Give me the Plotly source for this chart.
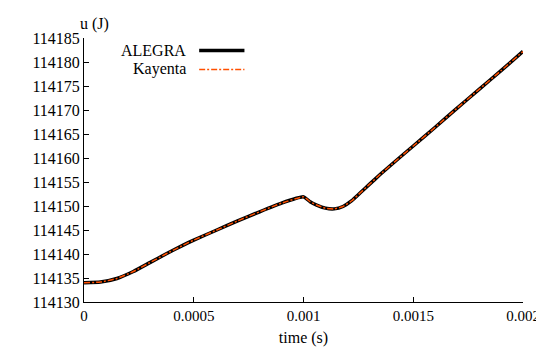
import plotly.graph_objects as go

# Data
time_s = [0.0, 0.000075, 0.00015, 0.000225, 0.0003, 0.000375, 0.00045, 0.0005,
          0.0006, 0.0007, 0.0008, 0.0009, 0.001, 0.00103, 0.00106, 0.0011,
          0.00114, 0.00118, 0.00122, 0.00126, 0.0013, 0.00135, 0.0014, 0.0015,
          0.0016, 0.0017, 0.0018, 0.0019, 0.002]
u_alegra = [114134.0, 114134.15, 114134.9, 114136.35, 114138.2, 114140.05, 114141.8,
            114142.9, 114144.9, 114146.9, 114148.8, 114150.6, 114151.9, 114150.9,
            114150.2, 114149.55, 114149.4, 114149.9, 114151.1, 114152.8, 114154.5,
            114156.6, 114158.6, 114162.5, 114166.4, 114170.4, 114174.3, 114178.2,
            114182.2]
u_kayenta = list(u_alegra)

x_ticks = [0, 0.0005, 0.001, 0.0015, 0.002]
x_tick_text = ["0", "0.0005", "0.001", "0.0015", "0.002"]
y_ticks = [114130, 114135, 114140, 114145, 114150, 114155, 114160, 114165,
           114170, 114175, 114180, 114185]
y_tick_text = [str(v) for v in y_ticks]
series_names = ["ALEGRA", "Kayenta"]

FONT = "Liberation Serif, Times New Roman, serif"
FS = 16
BLACK = "#000000"
ORANGE = "#ff4f00"

fig = go.Figure()
fig.add_trace(go.Scatter(x=time_s, y=u_alegra, mode="lines", name=series_names[0],
                         line=dict(color=BLACK, width=3.5, shape="spline", smoothing=0.4),
                         showlegend=False))
fig.add_trace(go.Scatter(x=time_s, y=u_kayenta, mode="lines", name=series_names[1],
                         line=dict(color=ORANGE, width=1.5, dash="6px,2px,2px,2px",
                                   shape="spline", smoothing=0.4),
                         showlegend=False))

W, H = 544, 352
ml, mr, mt, mb = 76, 22, 30, 58
pw, ph = W - ml - mr, H - mt - mb

def px(xp):
    return (xp - ml) / pw

def py(yp):
    return (H - mb - yp) / ph

# gnuplot-style key: text right-aligned, sample line after it
legend_rows = [(series_names[0], BLACK, 3.5, "solid", 42.5),
               (series_names[1], ORANGE, 1.5, "6px,2px,2px,2px", 61.5)]
for name, col, w, dash, yy in legend_rows:
    fig.add_annotation(x=px(182), y=py(yy), xref="paper", yref="paper", text=name,
                       showarrow=False, xanchor="right", yanchor="middle",
                       font=dict(family=FONT, size=FS, color="black"))
    fig.add_shape(type="line", xref="paper", yref="paper",
                  x0=px(193), x1=px(239), y0=py(yy), y1=py(yy),
                  line=dict(color=col, width=w, dash=dash))

fig.add_annotation(x=px(87), y=py(16), xref="paper", yref="paper", text="u (J)",
                   showarrow=False, xanchor="center", yanchor="middle",
                   font=dict(family=FONT, size=FS, color="black"))

fig.update_layout(
    width=W, height=H,
    margin=dict(l=ml, r=mr, t=mt, b=mb, pad=0),
    paper_bgcolor="white", plot_bgcolor="white",
    font=dict(family=FONT, size=FS, color="black"),
    xaxis=dict(range=[0, 0.002], tickvals=x_ticks, ticktext=x_tick_text,
               showline=True, linecolor="black", linewidth=1, mirror=False,
               ticks="inside", ticklen=5, tickcolor="black", tickwidth=1,
               showgrid=False, zeroline=False,
               tickfont=dict(family=FONT, size=15),
               title=dict(text="time (s)", font=dict(family=FONT, size=FS), standoff=8)),
    yaxis=dict(range=[114130, 114185], tickvals=y_ticks, ticktext=y_tick_text,
               showline=True, linecolor="black", linewidth=1, mirror=False,
               ticks="inside", ticklen=5, tickcolor="black", tickwidth=1,
               showgrid=False, zeroline=False,
               tickfont=dict(family=FONT, size=FS)),
)

fig.write_html("out.html")
